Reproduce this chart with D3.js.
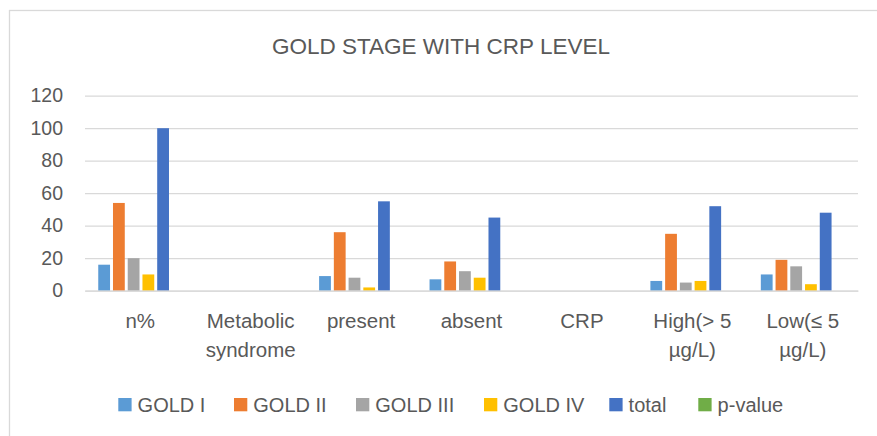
<!DOCTYPE html>
<html><head><meta charset="utf-8">
<script src="https://cdn.jsdelivr.net/npm/d3@7"></script>
<style>
body{margin:0;background:#fff;}
svg text{font-family:"Liberation Sans",Arial,sans-serif;fill:#595959;}
</style></head>
<body><svg id="c" width="877" height="436"></svg>
<script>
const title = "GOLD STAGE WITH CRP LEVEL";
const categories = [["n%"],["Metabolic","syndrome"],["present"],["absent"],["CRP"],["High(> 5","µg/L)"],["Low(≤ 5","µg/L)"]];
const seriesNames = ["GOLD I","GOLD II","GOLD III","GOLD IV","total","p-value"];
const seriesColors = ["#5B9BD5","#ED7D31","#A5A5A5","#FFC000","#4472C4","#70AD47"];
const goldI   = [16, null, 9, 7, null, 6, 10];
const goldII  = [54, null, 36, 18, null, 35, 19];
const goldIII = [20, null, 8, 12, null, 5, 15];
const goldIV  = [10, null, 2, 8, null, 6, 4];
const total   = [100, null, 55, 45, null, 52, 48];
const pValue  = [null, null, null, null, null, null, null];
const yTicks = [0,20,40,60,80,100,120];

const seriesValues = [goldI, goldII, goldIII, goldIV, total, pValue];
const svg = d3.select("#c");
const W = 877, H = 436;
const m = {left:85, right:19, top:95.7, bottom:145.3};

// chart border
svg.append("rect").attr("x",9.5).attr("y",10.5).attr("width",W).attr("height",H)
  .attr("fill","none").attr("stroke","#D9D9D9").attr("stroke-width",1.3);

svg.append("text").attr("x",441).attr("y",53.5).attr("text-anchor","middle")
  .style("font-size","22.5px").text(title);

const y = d3.scaleLinear().domain([0,120]).range([H-m.bottom, m.top]);
const x0 = d3.scaleBand().domain(d3.range(categories.length)).range([m.left, W-m.right]).paddingInner(0).paddingOuter(0);
const bw = x0.bandwidth();
const x1 = d3.scaleBand().domain(d3.range(seriesNames.length)).range([bw*0.12, bw*0.894]).paddingInner(0.2).paddingOuter(0);

// gridlines
const yAxis = d3.axisLeft(y).tickValues(yTicks).tickSize(-(W-m.left-m.right)).tickPadding(22);
const ga = svg.append("g").attr("transform",`translate(${m.left},0)`).call(yAxis);
ga.select(".domain").remove();
ga.selectAll(".tick line").attr("stroke","#D9D9D9").attr("stroke-width",1.3);
ga.selectAll(".tick text").style("font-size","19.5px").attr("fill","#595959");

// bars
const groups = svg.append("g").selectAll("g").data(categories).join("g")
  .attr("transform",(d,i)=>`translate(${x0(i)},0)`);
groups.selectAll("rect").data((d,i)=>seriesValues.map((s,k)=>({k, v:s[i]})).filter(e=>e.v!=null))
  .join("rect")
  .attr("x",e=>x1(e.k)).attr("width",x1.bandwidth())
  .attr("y",e=>y(e.v)).attr("height",e=>y(0)-y(e.v))
  .attr("fill",e=>seriesColors[e.k]);

// category labels
const xAxis = d3.axisBottom(x0).tickSize(0).tickFormat("");
const gx = svg.append("g").attr("transform",`translate(0,${y(0)})`).call(xAxis);
gx.select(".domain").attr("stroke","#D9D9D9").attr("stroke-width",1.3);
gx.selectAll(".tick").each(function(d){
  const t = d3.select(this).append("text").attr("text-anchor","middle").style("font-size","20.5px").attr("fill","#595959");
  categories[d].forEach((line,j)=>{
    t.append("tspan").attr("x",0).attr("y",37.8+j*28.4).text(line);
  });
});

// legend
const legendX = [118.3, 234, 356, 484, 609.3, 698.3];
const lg = svg.append("g").selectAll("g").data(seriesNames).join("g")
  .attr("transform",(d,i)=>`translate(${legendX[i]},398)`);
lg.append("rect").attr("width",13.3).attr("height",13.3).attr("fill",(d,i)=>seriesColors[i]);
lg.append("text").attr("x",19.3).attr("y",13.6).style("font-size","20px").text(d=>d);
</script></body></html>
